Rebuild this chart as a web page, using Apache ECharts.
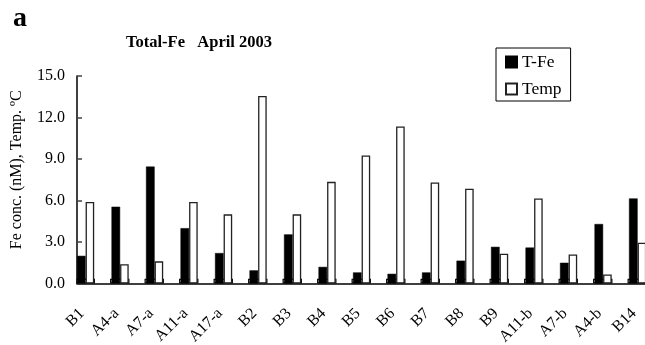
<!DOCTYPE html>
<html>
<head>
<meta charset="utf-8">
<script src="https://cdn.jsdelivr.net/npm/echarts@6/dist/echarts.min.js"></script>
<style>
html,body{margin:0;padding:0;background:#fff;}
#chart{width:645px;height:345px;}
</style>
</head>
<body>
<div id="chart"></div>
<script>
var stations = ['B1','A4-a','A7-a','A11-a','A17-a','B2','B3','B4','B5','B6','B7','B8','B9','A11-b','A7-b','A4-b','B14'];
var tFe  = [2.0, 5.55, 8.45, 4.0, 2.2, 0.95, 3.55, 1.2, 0.8, 0.7, 0.8, 1.65, 2.65, 2.6, 1.5, 4.3, 6.15];
var temp = [5.9, 1.4, 1.6, 5.9, 5.0, 13.55, 5.0, 7.35, 9.25, 11.35, 7.3, 6.85, 2.15, 6.15, 2.1, 0.65, 2.95];
var baseVals = [0.35,0.35,0.35,0.35,0.35,0.35,0.35,0.35,0.35,0.35,0.35,0.35,0.35,0.35,0.35,0.35,0.35];
var yTicks = [0, 3, 6, 9, 12, 15];

var FONT = '"Liberation Serif", "Times New Roman", serif';
var chart = echarts.init(document.getElementById('chart'), null, {renderer: 'canvas'});
chart.setOption({
  animation: false,
  backgroundColor: '#fff',
  title: [
    {text: 'a', left: 8, top: 0, textStyle: {fontFamily: FONT, fontSize: 28, fontWeight: 'bold', color: '#000'}},
    {text: 'Total-Fe   April 2003', left: 121, top: 29, textStyle: {fontFamily: FONT, fontSize: 16.5, fontWeight: 'bold', color: '#000'}}
  ],
  legend: {
    data: ['T-Fe', 'Temp'],
    orient: 'vertical',
    left: 496, top: 48,
    padding: [5, 9, 3, 9],
    itemGap: 9,
    itemWidth: 11, itemHeight: 11,
    icon: 'rect',
    borderColor: '#000', borderWidth: 1,
    textStyle: {fontFamily: FONT, fontSize: 17.5, color: '#000'}
  },
  grid: [
    {left: 77, top: 76, bottom: 61.5, right: -18.5, containLabel: false, outerBoundsMode: 'none'},
    {left: 64.75, top: 76, bottom: 61.5, right: -6.25, containLabel: false, outerBoundsMode: 'none'}
  ],
  xAxis: [
    {
      type: 'category', data: stations, position: 'bottom', gridIndex: 0,
      axisLine: {lineStyle: {color: '#000', width: 1.5}},
      axisTick: {show: false},
      axisLabel: {show: false}
    },
    {type: 'category', data: stations, gridIndex: 0, show: false},
    {
      type: 'category', data: stations, position: 'bottom', gridIndex: 1,
      axisLine: {show: false},
      axisTick: {show: false},
      axisLabel: {
        rotate: 45, margin: 27.5, interval: 0,
        fontFamily: FONT, fontSize: 16, color: '#000'
      }
    }
  ],
  yAxis: [
    {
      type: 'value', min: 0, max: 15, interval: 3, gridIndex: 0,
      name: 'Fe conc. (nM), Temp. ºC',
      nameLocation: 'middle', nameRotate: 90, nameGap: 52,
      nameTextStyle: {fontFamily: FONT, fontSize: 16, color: '#000', padding: [0, 0, 0, 20]},
      axisLine: {show: true, lineStyle: {color: '#000', width: 1.5}},
      axisTick: {show: true, inside: true, length: 5, lineStyle: {color: '#444', width: 1.5}},
      splitLine: {show: false},
      axisLabel: {
        margin: 12, fontFamily: FONT, fontSize: 16, color: '#000',
        formatter: function (v) { return yTicks.indexOf(v) >= 0 ? v.toFixed(1) : ''; }
      }
    },
    {type: 'value', min: 0, max: 15, gridIndex: 1, show: false}
  ],
  series: [
    {name: 'T-Fe', type: 'bar', data: tFe, barWidth: 8.6, barGap: '0%', z: 3,
     itemStyle: {color: '#000', borderColor: '#000', borderWidth: 0.5}},
    {name: 'Temp', type: 'bar', data: temp, barWidth: 8.6, barGap: '0%', z: 3,
     itemStyle: {color: '#fff', borderColor: '#222', borderWidth: 1.3}},
    {name: 'spacer', type: 'bar', data: [], barWidth: 17.3, barGap: '0%'},
    {name: 'base', type: 'bar', xAxisIndex: 1, data: baseVals, barWidth: 19.5, barGap: '0%', z: 1,
     itemStyle: {color: '#fff', borderColor: '#111', borderWidth: 1.3}},
    {name: 'spacer2', type: 'bar', xAxisIndex: 1, data: [], barWidth: 18, barGap: '0%'}
  ]
});
</script>
</body>
</html>
